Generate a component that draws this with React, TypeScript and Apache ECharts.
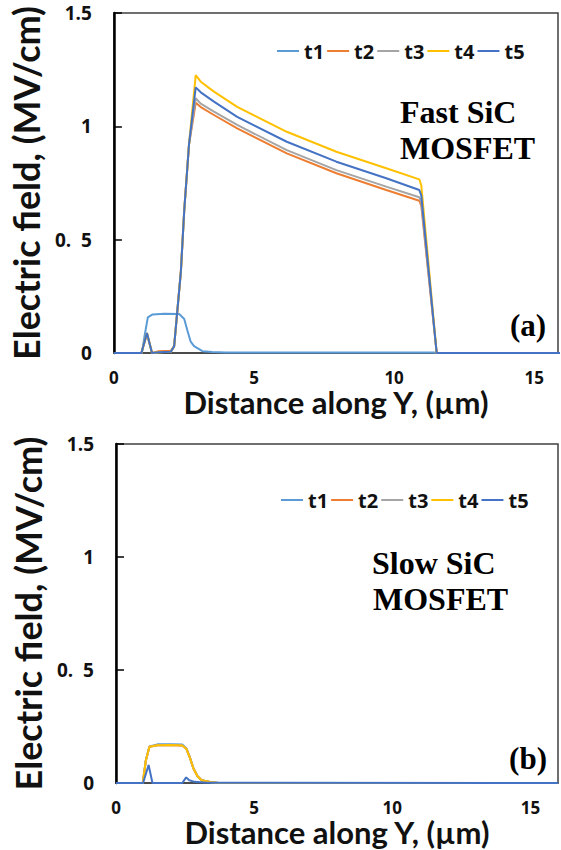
import React, { useEffect, useRef } from "react";
import * as echarts from "echarts";

// Series names and Excel-style palette
const seriesNames = ["t1", "t2", "t3", "t4", "t5"];
const seriesColors = ["#5B9BD5", "#ED7D31", "#A5A5A5", "#FFC000", "#4472C4"];

// Tick labels
const xTickLabels = ["0", "5", "10", "15"];
const yTickLabels = ["0", "0.\u00a0\u00a05", "1", "1.5"];

// Fast SiC MOSFET: t1 profile
const fastT1X = [0, 1.0, 1.09, 1.21, 1.38, 1.8, 2.33, 2.51, 2.62, 2.74, 2.86, 3.16, 3.5, 4.0, 11.4, 11.55, 16];
const fastT1 = [0, 0, 0.072, 0.157, 0.17, 0.173, 0.172, 0.15, 0.1, 0.05, 0.03, 0.008, 0.004, 0.002, 0.002, 0, 0];

// Fast SiC MOSFET: t2..t5 share the same positions
const fastX = [0, 0.98, 1.18, 1.36, 1.6, 2.03, 2.15, 2.39, 2.51, 2.68, 2.92, 3.1, 3.57, 4.4, 6.17, 7.94, 9.72, 10.9, 10.97, 11.52, 16];
const fastT2 = [0, 0, 0.085, 0, 0.008, 0.01, 0.03, 0.36, 0.63, 0.92, 1.104, 1.085, 1.05, 0.991, 0.881, 0.793, 0.719, 0.672, 0.65, 0, 0];
const fastT3 = [0, 0, 0.085, 0, 0.003, 0.005, 0.03, 0.36, 0.63, 0.92, 1.124, 1.1, 1.065, 1.006, 0.895, 0.807, 0.734, 0.687, 0.665, 0, 0];
const fastT4 = [0, 0, 0.088, 0, 0.003, 0.005, 0.03, 0.36, 0.63, 0.92, 1.226, 1.197, 1.153, 1.086, 0.976, 0.888, 0.815, 0.766, 0.74, 0, 0];
const fastT5 = [0, 0, 0.088, 0, 0.003, 0.005, 0.03, 0.36, 0.63, 0.92, 1.172, 1.15, 1.109, 1.042, 0.932, 0.844, 0.771, 0.719, 0.695, 0, 0];

// Slow SiC MOSFET: t1..t4 plateau profile
const slowX = [0, 0.97, 1.08, 1.21, 1.5, 2.0, 2.4, 2.55, 2.68, 2.8, 2.95, 3.1, 3.4, 3.7, 16];
const slowT1 = [0, 0, 0.1, 0.162, 0.171, 0.172, 0.17, 0.153, 0.112, 0.066, 0.03, 0.012, 0.004, 0, 0];
const slowT2 = [0, 0, 0.1, 0.16, 0.167, 0.168, 0.166, 0.15, 0.11, 0.065, 0.03, 0.012, 0.004, 0, 0];
const slowT3 = [0, 0, 0.1, 0.16, 0.167, 0.168, 0.166, 0.15, 0.11, 0.065, 0.03, 0.012, 0.004, 0, 0];
const slowT4 = [0, 0, 0.1, 0.16, 0.167, 0.168, 0.166, 0.15, 0.11, 0.065, 0.03, 0.012, 0.004, 0, 0];
// Slow SiC MOSFET: t5 spikes
const slowT5X = [0, 0.98, 1.18, 1.32, 2.4, 2.54, 2.65, 2.85, 3.3, 16];
const slowT5 = [0, 0, 0.08, 0, 0, 0.025, 0.012, 0.005, 0.001, 0];

const fastSets = [
  [fastT1X, fastT1],
  [fastX, fastT2],
  [fastX, fastT3],
  [fastX, fastT4],
  [fastX, fastT5],
];
const slowSets = [
  [slowX, slowT1],
  [slowX, slowT2],
  [slowX, slowT3],
  [slowX, slowT4],
  [slowT5X, slowT5],
];

const zip = (xs: number[], ys: number[]) => xs.map((x, i) => [x, ys[i]]);

const SANS = "Lato, 'Open Sans', sans-serif";
const SANS_SMALL = "'Open Sans', Lato, sans-serif";
const SERIF = "'Liberation Serif', 'DejaVu Serif', serif";
const INK = "#111111";

function xAxisFor(gridIndex: number, max: number) {
  return {
    type: "value",
    gridIndex,
    min: 0,
    max,
    interval: 5,
    name: "Distance along Y, (µm)",
    nameLocation: "middle",
    nameGap: 32,
    nameTextStyle: { fontFamily: SANS, fontSize: 31, fontWeight: "bold", color: INK },
    axisLine: { show: true, lineStyle: { color: "#404040", width: 1.5 } },
    axisTick: { show: false },
    splitLine: { show: false },
    axisLabel: {
      margin: 16,
      fontFamily: SANS_SMALL,
      fontSize: 17,
      fontWeight: "bold",
      color: INK,
      formatter: (v: number) => {
        const i = Math.round(v / 5);
        return Math.abs(v - i * 5) < 1e-6 && i < xTickLabels.length ? xTickLabels[i] : "";
      },
    },
  };
}

function yAxisFor(gridIndex: number) {
  return {
    type: "value",
    gridIndex,
    min: 0,
    max: 1.5,
    interval: 0.5,
    name: "Electric field, (MV/cm)",
    nameLocation: "middle",
    nameRotate: 90,
    nameGap: 62,
    nameTextStyle: { fontFamily: SANS, fontSize: 36, fontWeight: "bold", color: INK },
    axisLine: { show: true, lineStyle: { color: "#000000", width: 2.5 } },
    axisTick: { show: true, inside: true, length: 8, lineStyle: { color: "#000000", width: 1.5 } },
    splitLine: { show: false },
    axisLabel: {
      margin: 22,
      fontFamily: SANS_SMALL,
      fontSize: 19,
      fontWeight: "bold",
      color: INK,
      formatter: (v: number) => yTickLabels[Math.round(v / 0.5)] ?? "",
    },
  };
}

function legendFor(left: number, top: number) {
  return {
    left,
    top,
    orient: "horizontal",
    data: seriesNames,
    icon: "rect",
    itemWidth: 22,
    itemHeight: 2,
    itemGap: 3,
    textStyle: { fontFamily: SANS_SMALL, fontSize: 20, fontWeight: "bold", color: INK },
    selectedMode: false,
  };
}

export default function App() {
  const ref = useRef<HTMLDivElement>(null);

  useEffect(() => {
    if (!ref.current) return;
    const chart = echarts.init(ref.current, undefined, { renderer: "svg" });

    const series: any[] = [];
    fastSets.forEach(([xs, ys], i) => {
      series.push({
        name: seriesNames[i],
        type: "line",
        xAxisIndex: 0,
        yAxisIndex: 0,
        data: zip(xs, ys),
        showSymbol: false,
        symbol: "none",
        lineStyle: { color: seriesColors[i], width: 2 },
        itemStyle: { color: seriesColors[i] },
      });
    });
    slowSets.forEach(([xs, ys], i) => {
      series.push({
        name: seriesNames[i],
        type: "line",
        xAxisIndex: 1,
        yAxisIndex: 1,
        data: zip(xs, ys),
        showSymbol: false,
        symbol: "none",
        lineStyle: { color: seriesColors[i], width: 2 },
        itemStyle: { color: seriesColors[i] },
      });
    });

    const label = (text: string, x: number, y: number, size: number, align = "left") => ({
      type: "text",
      x,
      y,
      style: {
        text,
        font: `bold ${size}px ${SERIF}`,
        fill: "#000000",
        textAlign: align,
        textVerticalAlign: "middle",
      },
    });

    chart.setOption({
      animation: false,
      backgroundColor: "#ffffff",
      grid: [
        { left: 111, top: 13, width: 447, height: 340, show: true, borderColor: "#404040", borderWidth: 1.5, containLabel: false },
        { left: 116, top: 444, width: 449, height: 339, show: true, borderColor: "#404040", borderWidth: 1.5, containLabel: false },
      ],
      xAxis: [xAxisFor(0, 15.85), xAxisFor(1, 16)],
      yAxis: [yAxisFor(0), yAxisFor(1)],
      legend: [legendFor(272, 36), legendFor(276, 485)],
      series,
      graphic: [
        label("Fast SiC", 400, 112, 32),
        label("MOSFET", 400, 148, 32),
        label("(a)", 528, 325, 31, "center"),
        label("Slow SiC", 372, 563, 32),
        label("MOSFET", 373, 599, 32),
        label("(b)", 528, 758, 31, "center"),
      ],
    });

    return () => chart.dispose();
  }, []);

  return (
    <div
      ref={ref}
      style={{ position: "fixed", left: 0, top: 0, width: 561, height: 850, background: "#fff" }}
    />
  );
}
